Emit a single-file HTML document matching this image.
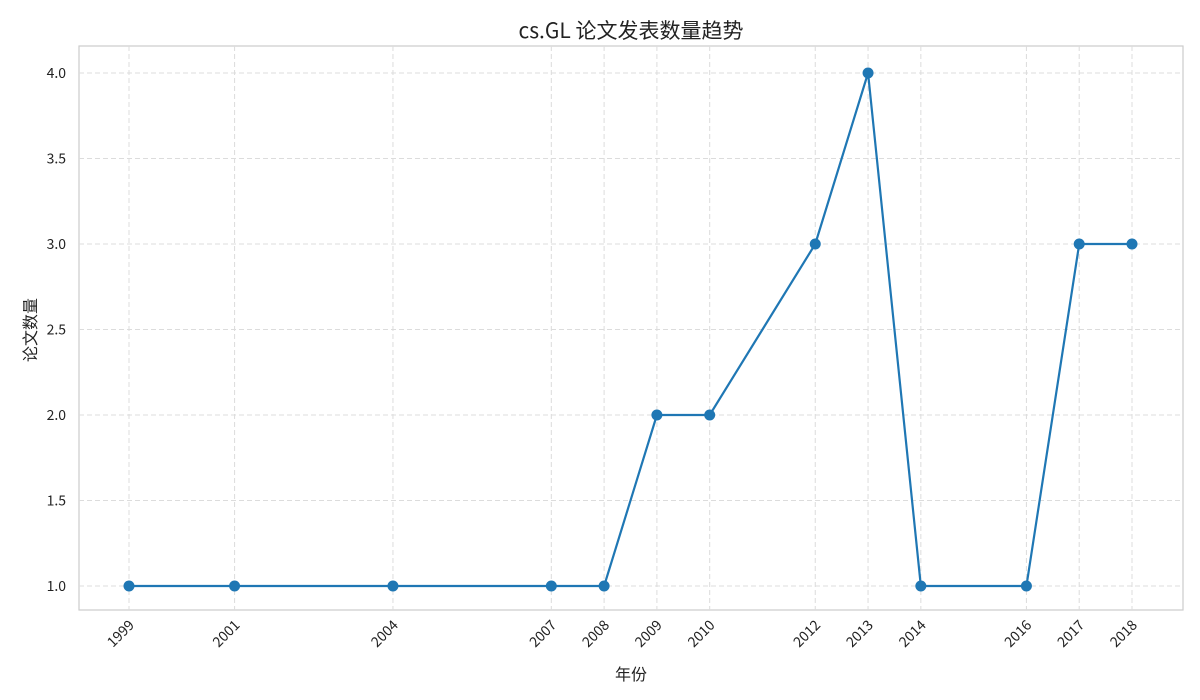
<!DOCTYPE html>
<html><head><meta charset="utf-8"><style>
body{margin:0;background:#fff;}
svg{display:block;font-family:"WenQuanYi Zen Hei","Noto Sans CJK SC",sans-serif;}
</style></head><body>
<svg id="chart" width="1200" height="700">
<rect x="79" y="46" width="1104" height="564" fill="#fff" stroke="#ccc" stroke-width="1.2"/>
<g id="grid"></g><g id="xt"></g><g id="yt"></g><g id="series"></g>
<text x="631" y="38" text-anchor="middle" font-size="21" fill="#222">cs.GL 论文发表数量趋势</text>
<text x="631" y="680" text-anchor="middle" font-size="16" fill="#222">年份</text>
<text transform="translate(36,330) rotate(-90)" text-anchor="middle" font-size="16" fill="#222">论文数量</text>
</svg>
<script>
const years=[1999,2001,2004,2007,2008,2009,2010,2012,2013,2014,2016,2017,2018];
const counts=[1,1,1,1,1,2,2,3,4,1,1,3,3];
const yTicks=[1.0,1.5,2.0,2.5,3.0,3.5,4.0];
const NS="http://www.w3.org/2000/svg";
const x=v=>129+(v-1999)*(1132-129)/19;
const y=v=>586-(v-1)*(586-73)/3;
function mk(t,a,p){const e=document.createElementNS(NS,t);for(const k in a)e.setAttribute(k,a[k]);p.appendChild(e);return e;}
const g=document.getElementById('grid'),xt=document.getElementById('xt'),yt=document.getElementById('yt'),s=document.getElementById('series');
years.forEach(v=>{
 const l=mk('line',{x1:x(v),x2:x(v),y1:46,y2:610,stroke:'#dcdcdc','stroke-dasharray':'5,3'},g);
 
 
 const t=mk('text',{transform:`translate(${x(v)+6},${626}) rotate(-45)`,'text-anchor':'end','font-size':14,fill:'#222'},xt);
 t.textContent=v;
 
 
});
yTicks.forEach(v=>{
 const l=mk('line',{x1:79,x2:1183,y1:y(v),y2:y(v),stroke:'#dcdcdc','stroke-dasharray':'5,3'},g);
 
 
 const t=mk('text',{x:66,y:y(v)+5,'text-anchor':'end','font-size':14,fill:'#222'},yt);
 t.textContent=v.toFixed(1);
 
 
});
const pl=mk('polyline',{points:years.map((v,i)=>x(v)+','+y(counts[i])).join(' '),fill:'none',stroke:'#1f77b4','stroke-width':2.2},s);


years.forEach((v,i)=>{
 const c=mk('circle',{cx:x(v),cy:y(counts[i]),r:5.5,fill:'#1f77b4'},s);
 
 
});
</script>
</body></html>
